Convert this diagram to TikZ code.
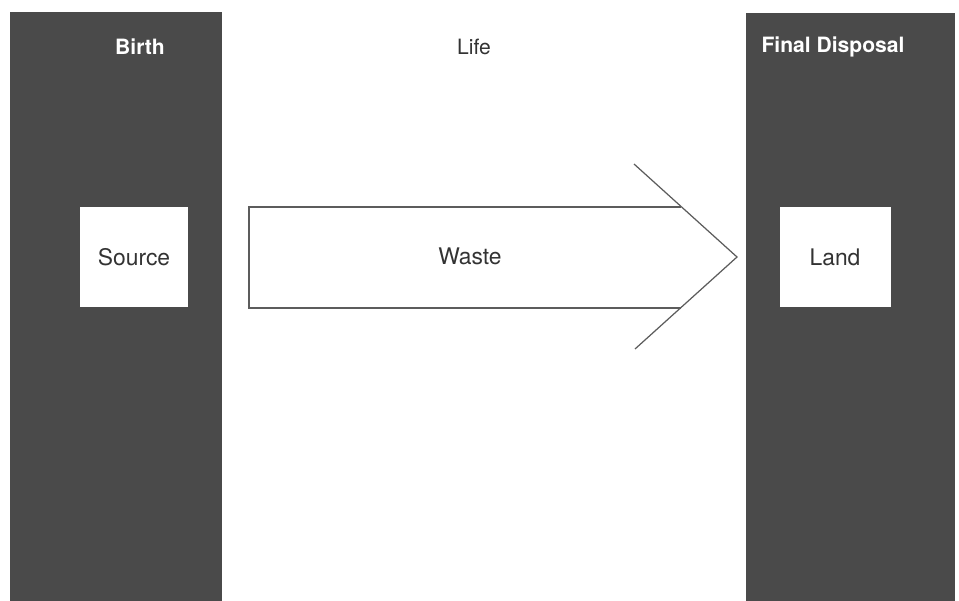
\documentclass[tikz,border=0pt]{standalone}
\usepackage{fontspec}
\setmainfont{TeX Gyre Heros}
\definecolor{bargray}{HTML}{4A4A4A}
\definecolor{textgray}{HTML}{333333}
\tikzset{
  bar/.style={fill=bargray, draw=none},
  stage/.style={font=\fontsize{12}{14}\selectfont\bfseries, text=white},
  plainlabel/.style={font=\fontsize{13}{15}\selectfont, text=textgray},
  whitebox/.style={fill=white, draw=none, minimum width=2.16cm, minimum height=2cm, inner sep=0pt,
    font=\fontsize{13}{15}\selectfont, text=textgray},
  arrowline/.style={draw=textgray!80, line width=0.7pt}
}
\begin{document}
\begin{tikzpicture}[x=0.02cm, y=-0.02cm]
  \useasboundingbox (0,0) rectangle (959,601);
  % Bars
  \fill[bar] (10,12) rectangle (222,601);
  \fill[bar] (746,13) rectangle (955,601);

  % Stage labels
  \node[stage] (birth) at (140,47) {Birth};
  \node[plainlabel, font=\fontsize{12}{14}\selectfont] (life) at (474,47) {Life};
  \node[stage] (disposal) at (833,47) {Final Disposal};

  % Boxes
  \node[whitebox] (source) at (134,257) {Source};
  \node[whitebox, minimum width=2.22cm] (land) at (835,257) {Land};

  % Arrow
  \coordinate (tailtop) at (249,207);
  \coordinate (tailbot) at (249,308);
  \coordinate (bodytop) at (681,207);
  \coordinate (bodybot) at (681,308);
  \coordinate (headtop) at (634,164);
  \coordinate (headbot) at (635,349);
  \coordinate (tip) at (737,257);
  \draw[arrowline] (bodytop) -- (tailtop) -- (tailbot) -- (bodybot);
  \draw[arrowline] (headtop) -- (tip) -- (headbot);
  \node[plainlabel] (waste) at (470,256) {Waste};
\end{tikzpicture}
\end{document}
